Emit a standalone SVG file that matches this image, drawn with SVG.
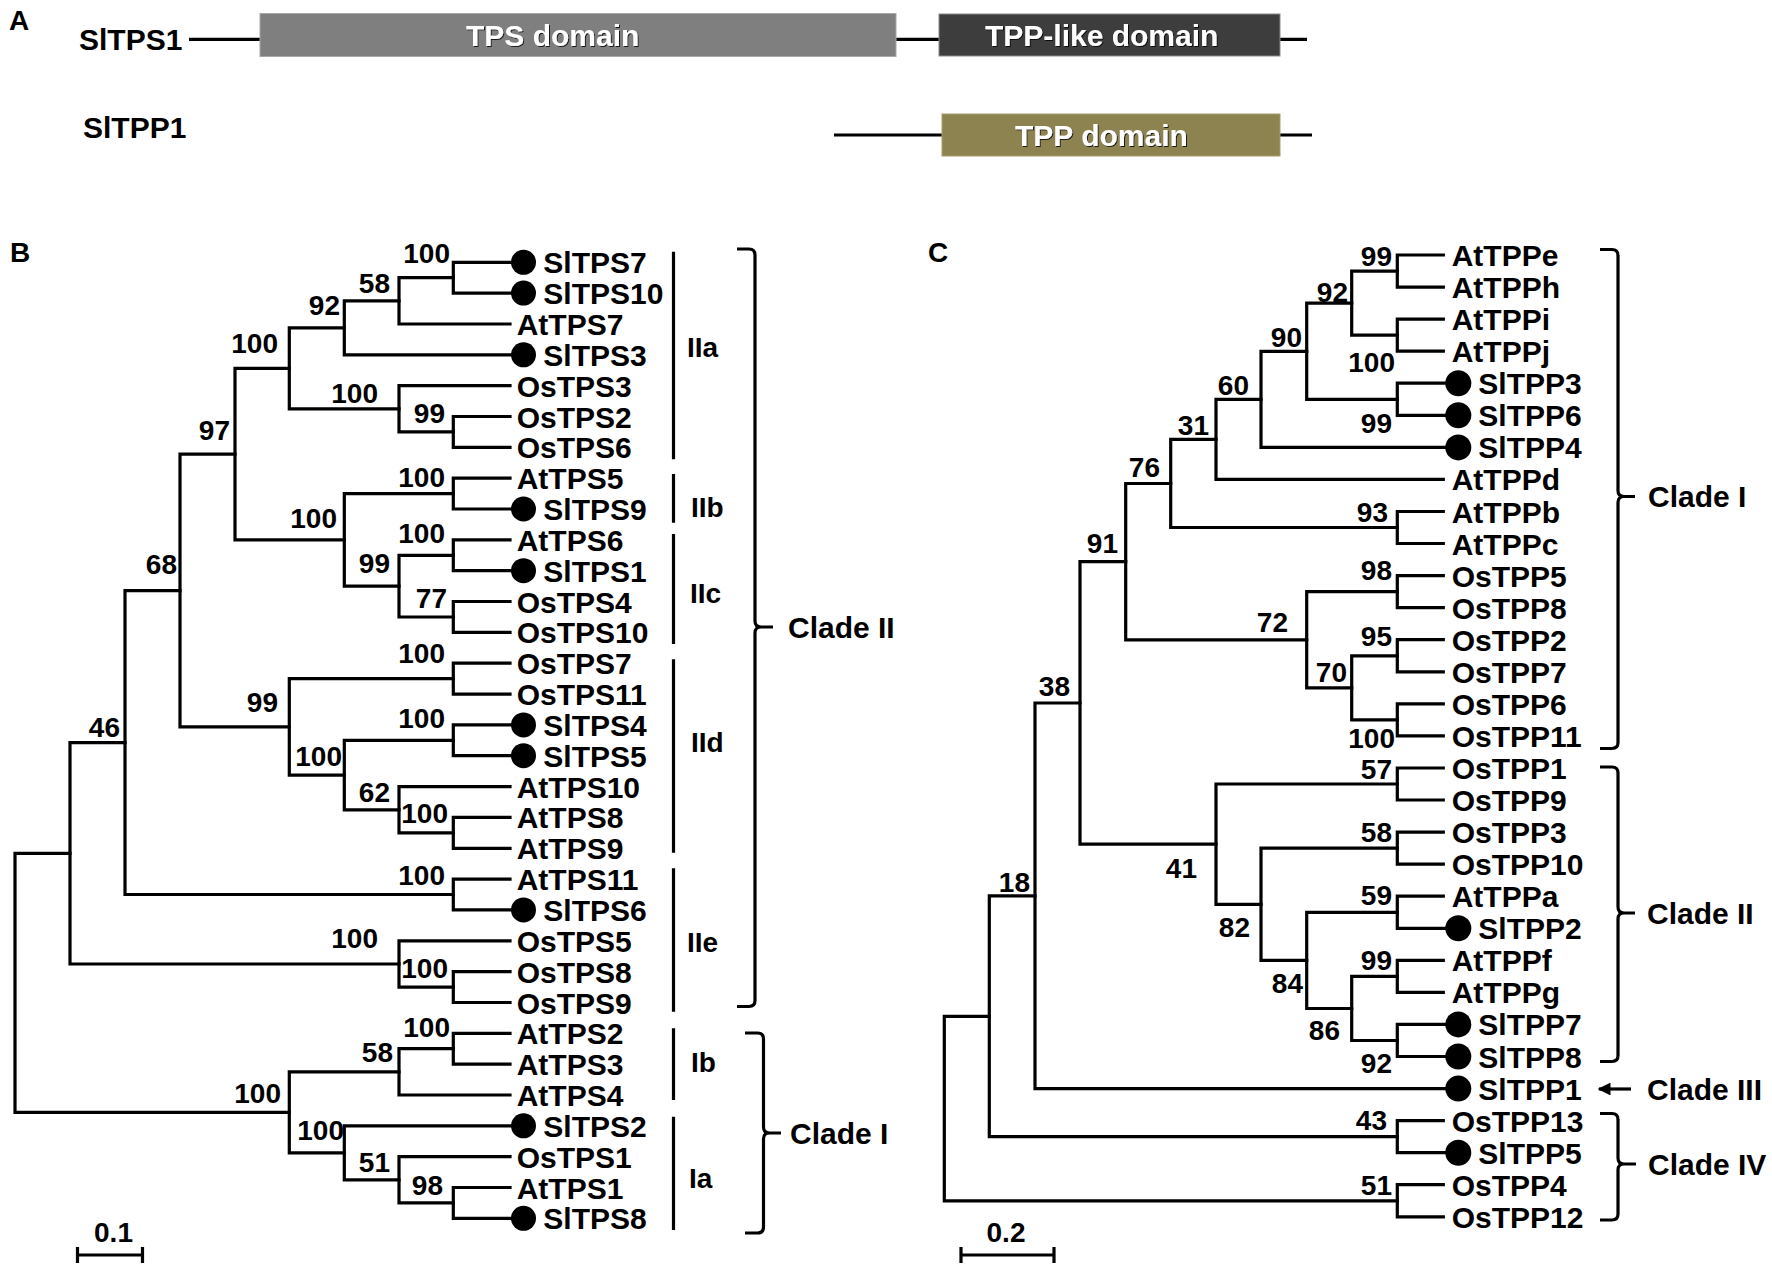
<svg xmlns="http://www.w3.org/2000/svg" width="1772" height="1270" viewBox="0 0 1772 1270">
<defs>
<style>
.t{font-family:"Liberation Sans",Arial,sans-serif;font-weight:bold;fill:#000}
.lf{font-size:30px}
.bs{font-size:28px;text-anchor:end}
.sc{font-size:28px;text-anchor:middle}
.pl{font-size:28px}
.br{fill:none;stroke:#000;stroke-width:3.2;stroke-linecap:square}
.ln{fill:none;stroke:#000;stroke-width:3.2}
.dot{fill:#000}
.dm{font-family:"Liberation Sans",Arial,sans-serif;font-weight:bold;font-size:30px;fill:#fff;filter:url(#sh)}
</style>
<filter id="sh" x="-5%" y="-20%" width="110%" height="150%"><feDropShadow dx="1" dy="1" stdDeviation="0.6" flood-color="#000" flood-opacity="0.8"/></filter>
<marker id="ah" viewBox="0 0 10 10" refX="9" refY="5" markerWidth="4" markerHeight="4" orient="auto"><path d="M0,0 L10,5 L0,10 z" fill="#000"/></marker>
</defs>
<rect width="1772" height="1270" fill="#fff"/>

<!-- Panel A -->
<g id="panelA">
<text class="t" font-size="28" x="9" y="30">A</text>
<g id="A-SlTPS1">
<text class="t lf" x="79" y="50">SlTPS1</text>
<path class="ln" d="M189 39.3 H260 M896 39.3 H939 M1280 39.3 H1307"/>
<rect x="260" y="13.5" width="636" height="43" fill="#7f7f7f" stroke="#a8a8a8" stroke-width="1"/>
<text class="dm" x="466" y="46">TPS domain</text>
<rect x="939" y="14" width="341" height="42" fill="#3d3d3d" stroke="#8a8a8a" stroke-width="1"/>
<text class="dm" x="985" y="46">TPP-like domain</text>
</g>
<g id="A-SlTPP1">
<text class="t lf" x="83" y="138">SlTPP1</text>
<path class="ln" d="M834 135 H942 M1280 135 H1312"/>
<rect x="942" y="114" width="338" height="42" fill="#8d8350" stroke="#a79d6c" stroke-width="1"/>
<text class="dm" x="1015" y="146">TPP domain</text>
</g>
</g>

<!-- Panel B -->
<text class="t" font-size="28" x="10" y="262">B</text>
<g id="B-connectors">
<path class="br" d="M523.5 262.3 H453.3 V293.1 H523.5"/>
<path class="br" d="M453.3 277.7 H399 V324 H510"/>
<path class="br" d="M399 300.9 H344.3 V354.8 H523.5"/>
<path class="br" d="M510 416.5 H453.3 V447.3 H510"/>
<path class="br" d="M510 385.7 H399 V431.9 H453.3"/>
<path class="br" d="M344.3 327.9 H289.3 V408.8 H399"/>
<path class="br" d="M510 478.2 H453.3 V509 H523.5"/>
<path class="br" d="M510 539.9 H453.3 V570.7 H523.5"/>
<path class="br" d="M510 601.5 H453.3 V632.4 H510"/>
<path class="br" d="M453.3 555.3 H399 V617 H453.3"/>
<path class="br" d="M453.3 493.6 H344.3 V586.2 H399"/>
<path class="br" d="M289.3 368.4 H235 V539.9 H344.3"/>
<path class="br" d="M510 663.2 H453.3 V694.1 H510"/>
<path class="br" d="M523.5 724.9 H453.3 V755.7 H523.5"/>
<path class="br" d="M510 817.4 H453.3 V848.3 H510"/>
<path class="br" d="M510 786.6 H399 V832.9 H453.3"/>
<path class="br" d="M453.3 740.3 H344.3 V809.8 H399"/>
<path class="br" d="M453.3 678.7 H289.3 V775.1 H344.3"/>
<path class="br" d="M235 454.2 H180 V726.9 H289.3"/>
<path class="br" d="M510 879.1 H453.3 V909.9 H523.5"/>
<path class="br" d="M180 590.6 H125 V894.5 H453.3"/>
<path class="br" d="M510 971.6 H453.3 V1002.5 H510"/>
<path class="br" d="M510 940.8 H399 V987.1 H453.3"/>
<path class="br" d="M125 742.6 H70 V964 H399"/>
<path class="br" d="M510 1033.3 H453.3 V1064.1 H510"/>
<path class="br" d="M453.3 1048.7 H399 V1095 H510"/>
<path class="br" d="M510 1187.5 H453.3 V1218.3 H523.5"/>
<path class="br" d="M510 1156.7 H399 V1202.9 H453.3"/>
<path class="br" d="M523.5 1125.8 H344.3 V1179.8 H399"/>
<path class="br" d="M399 1071.9 H289.3 V1152.8 H344.3"/>
<path class="br" d="M70 853.3 H15 V1112.4 H289.3"/>
</g>
<g id="B-leaves">
<g id="B-SlTPS7"><circle class="dot" cx="523.5" cy="262.3" r="12.5"/><text class="t lf" x="543.3" y="273.3">SlTPS7</text></g>
<g id="B-SlTPS10"><circle class="dot" cx="523.5" cy="293.1" r="12.5"/><text class="t lf" x="543.3" y="304.1">SlTPS10</text></g>
<g id="B-AtTPS7"><text class="t lf" x="516.7" y="335">AtTPS7</text></g>
<g id="B-SlTPS3"><circle class="dot" cx="523.5" cy="354.8" r="12.5"/><text class="t lf" x="543.3" y="365.8">SlTPS3</text></g>
<g id="B-OsTPS3"><text class="t lf" x="516.7" y="396.7">OsTPS3</text></g>
<g id="B-OsTPS2"><text class="t lf" x="516.7" y="427.5">OsTPS2</text></g>
<g id="B-OsTPS6"><text class="t lf" x="516.7" y="458.3">OsTPS6</text></g>
<g id="B-AtTPS5"><text class="t lf" x="516.7" y="489.2">AtTPS5</text></g>
<g id="B-SlTPS9"><circle class="dot" cx="523.5" cy="509" r="12.5"/><text class="t lf" x="543.3" y="520">SlTPS9</text></g>
<g id="B-AtTPS6"><text class="t lf" x="516.7" y="550.9">AtTPS6</text></g>
<g id="B-SlTPS1"><circle class="dot" cx="523.5" cy="570.7" r="12.5"/><text class="t lf" x="543.3" y="581.7">SlTPS1</text></g>
<g id="B-OsTPS4"><text class="t lf" x="516.7" y="612.5">OsTPS4</text></g>
<g id="B-OsTPS10"><text class="t lf" x="516.7" y="643.4">OsTPS10</text></g>
<g id="B-OsTPS7"><text class="t lf" x="516.7" y="674.2">OsTPS7</text></g>
<g id="B-OsTPS11"><text class="t lf" x="516.7" y="705.1">OsTPS11</text></g>
<g id="B-SlTPS4"><circle class="dot" cx="523.5" cy="724.9" r="12.5"/><text class="t lf" x="543.3" y="735.9">SlTPS4</text></g>
<g id="B-SlTPS5"><circle class="dot" cx="523.5" cy="755.7" r="12.5"/><text class="t lf" x="543.3" y="766.7">SlTPS5</text></g>
<g id="B-AtTPS10"><text class="t lf" x="516.7" y="797.6">AtTPS10</text></g>
<g id="B-AtTPS8"><text class="t lf" x="516.7" y="828.4">AtTPS8</text></g>
<g id="B-AtTPS9"><text class="t lf" x="516.7" y="859.3">AtTPS9</text></g>
<g id="B-AtTPS11"><text class="t lf" x="516.7" y="890.1">AtTPS11</text></g>
<g id="B-SlTPS6"><circle class="dot" cx="523.5" cy="909.9" r="12.5"/><text class="t lf" x="543.3" y="920.9">SlTPS6</text></g>
<g id="B-OsTPS5"><text class="t lf" x="516.7" y="951.8">OsTPS5</text></g>
<g id="B-OsTPS8"><text class="t lf" x="516.7" y="982.6">OsTPS8</text></g>
<g id="B-OsTPS9"><text class="t lf" x="516.7" y="1013.5">OsTPS9</text></g>
<g id="B-AtTPS2"><text class="t lf" x="516.7" y="1044.3">AtTPS2</text></g>
<g id="B-AtTPS3"><text class="t lf" x="516.7" y="1075.1">AtTPS3</text></g>
<g id="B-AtTPS4"><text class="t lf" x="516.7" y="1106">AtTPS4</text></g>
<g id="B-SlTPS2"><circle class="dot" cx="523.5" cy="1125.8" r="12.5"/><text class="t lf" x="543.3" y="1136.8">SlTPS2</text></g>
<g id="B-OsTPS1"><text class="t lf" x="516.7" y="1167.7">OsTPS1</text></g>
<g id="B-AtTPS1"><text class="t lf" x="516.7" y="1198.5">AtTPS1</text></g>
<g id="B-SlTPS8"><circle class="dot" cx="523.5" cy="1218.3" r="12.5"/><text class="t lf" x="543.3" y="1229.3">SlTPS8</text></g>
</g>
<g id="B-bootstrap" class="t bs">
<text x="450" y="263">100</text>
<text x="390" y="293">58</text>
<text x="340" y="315">92</text>
<text x="278" y="353">100</text>
<text x="378" y="403">100</text>
<text x="445" y="423">99</text>
<text x="230" y="440">97</text>
<text x="445" y="487">100</text>
<text x="337" y="528">100</text>
<text x="445" y="543">100</text>
<text x="390" y="573">99</text>
<text x="177" y="574">68</text>
<text x="447" y="608">77</text>
<text x="445" y="663">100</text>
<text x="278" y="712">99</text>
<text x="445" y="728">100</text>
<text x="120" y="737">46</text>
<text x="342" y="766">100</text>
<text x="390" y="802">62</text>
<text x="448" y="823">100</text>
<text x="445" y="885">100</text>
<text x="378" y="948">100</text>
<text x="448" y="978">100</text>
<text x="450" y="1037">100</text>
<text x="393" y="1062">58</text>
<text x="281" y="1103">100</text>
<text x="344" y="1140">100</text>
<text x="390" y="1172">51</text>
<text x="443" y="1195">98</text>
</g>
<g id="B-subclades">
<path class="ln" d="M673.5 251.7 V459.3 M673.5 474 V522.7 M673.5 534 V644 M673.5 659.3 V852.7 M673.5 868.3 V1011.7 M673.5 1028.3 V1100 M673.5 1116.7 V1230"/>
<text class="t pl" x="687" y="357">IIa</text>
<text class="t pl" x="691" y="517">IIb</text>
<text class="t pl" x="690" y="603">IIc</text>
<text class="t pl" x="691" y="752">IId</text>
<text class="t pl" x="687" y="952">IIe</text>
<text class="t pl" x="691" y="1072">Ib</text>
<text class="t pl" x="689" y="1188">Ia</text>
</g>
<g id="B-clades">
<path class="ln" d="M737 249 H749 Q755 249 755 255 V621 Q755 627 761 627 H773 M761 627 Q755 627 755 633 V1000.5 Q755 1006.5 749 1006.5 H737"/>
<text class="t lf" x="788" y="638">Clade II</text>
<path class="ln" d="M745 1033 H757.5 Q763.5 1033 763.5 1039 V1127 Q763.5 1133 769.5 1133 H781 M769.5 1133 Q763.5 1133 763.5 1139 V1227 Q763.5 1233 757.5 1233 H745"/>
<text class="t lf" x="790" y="1144">Clade I</text>
</g>
<g id="B-scale">
<path class="ln" d="M77.5 1247 V1263 M77.5 1255 H142.5 M142.5 1247 V1263"/>
<text class="t sc" x="113.5" y="1242">0.1</text>
</g>

<!-- Panel C -->
<text class="t" font-size="28" x="928" y="262">C</text>
<g id="C-connectors">
<path class="br" d="M1443.3 255 H1397.3 V287.1 H1443.3"/>
<path class="br" d="M1443.3 319.1 H1397.3 V351.2 H1443.3"/>
<path class="br" d="M1397.3 271.1 H1351.7 V335.2 H1397.3"/>
<path class="br" d="M1458.3 383.2 H1397.3 V415.3 H1458.3"/>
<path class="br" d="M1351.7 303.2 H1306.7 V399.3 H1397.3"/>
<path class="br" d="M1306.7 351.3 H1261 V447.4 H1458.3"/>
<path class="br" d="M1261 399.4 H1216 V479.4 H1443.3"/>
<path class="br" d="M1443.3 511.5 H1397.3 V543.5 H1443.3"/>
<path class="br" d="M1216 439.4 H1170.7 V527.5 H1397.3"/>
<path class="br" d="M1443.3 575.6 H1397.3 V607.7 H1443.3"/>
<path class="br" d="M1443.3 639.7 H1397.3 V671.8 H1443.3"/>
<path class="br" d="M1443.3 703.8 H1397.3 V735.9 H1443.3"/>
<path class="br" d="M1397.3 655.8 H1351.7 V719.9 H1397.3"/>
<path class="br" d="M1397.3 591.7 H1306.7 V687.9 H1351.7"/>
<path class="br" d="M1170.7 483.5 H1125.7 V639.8 H1306.7"/>
<path class="br" d="M1443.3 768 H1397.3 V800 H1443.3"/>
<path class="br" d="M1443.3 832.1 H1397.3 V864.1 H1443.3"/>
<path class="br" d="M1443.3 896.2 H1397.3 V928.3 H1458.3"/>
<path class="br" d="M1443.3 960.3 H1397.3 V992.4 H1443.3"/>
<path class="br" d="M1458.3 1024.4 H1397.3 V1056.5 H1458.3"/>
<path class="br" d="M1397.3 976.4 H1351.7 V1040.5 H1397.3"/>
<path class="br" d="M1397.3 912.3 H1306.7 V1008.5 H1351.7"/>
<path class="br" d="M1397.3 848.1 H1261 V960.4 H1306.7"/>
<path class="br" d="M1397.3 784 H1216 V904.3 H1261"/>
<path class="br" d="M1125.7 561.7 H1080 V844.2 H1216"/>
<path class="br" d="M1080 703 H1035 V1088.6 H1458.3"/>
<path class="br" d="M1443.3 1120.6 H1397.3 V1152.7 H1458.3"/>
<path class="br" d="M1443.3 1184.7 H1397.3 V1216.8 H1443.3"/>
<path class="br" d="M1035 895.8 H989.3 V1136.7 H1397.3"/>
<path class="br" d="M989.3 1016.3 H944.3 V1200.8 H1397.3"/>
</g>
<g id="C-leaves">
<g id="C-AtTPPe"><text class="t lf" x="1451.7" y="266">AtTPPe</text></g>
<g id="C-AtTPPh"><text class="t lf" x="1451.7" y="298.1">AtTPPh</text></g>
<g id="C-AtTPPi"><text class="t lf" x="1451.7" y="330.1">AtTPPi</text></g>
<g id="C-AtTPPj"><text class="t lf" x="1451.7" y="362.2">AtTPPj</text></g>
<g id="C-SlTPP3"><circle class="dot" cx="1458.3" cy="383.2" r="13"/><text class="t lf" x="1478.3" y="394.2">SlTPP3</text></g>
<g id="C-SlTPP6"><circle class="dot" cx="1458.3" cy="415.3" r="13"/><text class="t lf" x="1478.3" y="426.3">SlTPP6</text></g>
<g id="C-SlTPP4"><circle class="dot" cx="1458.3" cy="447.4" r="13"/><text class="t lf" x="1478.3" y="458.4">SlTPP4</text></g>
<g id="C-AtTPPd"><text class="t lf" x="1451.7" y="490.4">AtTPPd</text></g>
<g id="C-AtTPPb"><text class="t lf" x="1451.7" y="522.5">AtTPPb</text></g>
<g id="C-AtTPPc"><text class="t lf" x="1451.7" y="554.5">AtTPPc</text></g>
<g id="C-OsTPP5"><text class="t lf" x="1451.7" y="586.6">OsTPP5</text></g>
<g id="C-OsTPP8"><text class="t lf" x="1451.7" y="618.7">OsTPP8</text></g>
<g id="C-OsTPP2"><text class="t lf" x="1451.7" y="650.7">OsTPP2</text></g>
<g id="C-OsTPP7"><text class="t lf" x="1451.7" y="682.8">OsTPP7</text></g>
<g id="C-OsTPP6"><text class="t lf" x="1451.7" y="714.8">OsTPP6</text></g>
<g id="C-OsTPP11"><text class="t lf" x="1451.7" y="746.9">OsTPP11</text></g>
<g id="C-OsTPP1"><text class="t lf" x="1451.7" y="779">OsTPP1</text></g>
<g id="C-OsTPP9"><text class="t lf" x="1451.7" y="811">OsTPP9</text></g>
<g id="C-OsTPP3"><text class="t lf" x="1451.7" y="843.1">OsTPP3</text></g>
<g id="C-OsTPP10"><text class="t lf" x="1451.7" y="875.1">OsTPP10</text></g>
<g id="C-AtTPPa"><text class="t lf" x="1451.7" y="907.2">AtTPPa</text></g>
<g id="C-SlTPP2"><circle class="dot" cx="1458.3" cy="928.3" r="13"/><text class="t lf" x="1478.3" y="939.3">SlTPP2</text></g>
<g id="C-AtTPPf"><text class="t lf" x="1451.7" y="971.3">AtTPPf</text></g>
<g id="C-AtTPPg"><text class="t lf" x="1451.7" y="1003.4">AtTPPg</text></g>
<g id="C-SlTPP7"><circle class="dot" cx="1458.3" cy="1024.4" r="13"/><text class="t lf" x="1478.3" y="1035.4">SlTPP7</text></g>
<g id="C-SlTPP8"><circle class="dot" cx="1458.3" cy="1056.5" r="13"/><text class="t lf" x="1478.3" y="1067.5">SlTPP8</text></g>
<g id="C-SlTPP1"><circle class="dot" cx="1458.3" cy="1088.6" r="13"/><text class="t lf" x="1478.3" y="1099.6">SlTPP1</text></g>
<g id="C-OsTPP13"><text class="t lf" x="1451.7" y="1131.6">OsTPP13</text></g>
<g id="C-SlTPP5"><circle class="dot" cx="1458.3" cy="1152.7" r="13"/><text class="t lf" x="1478.3" y="1163.7">SlTPP5</text></g>
<g id="C-OsTPP4"><text class="t lf" x="1451.7" y="1195.7">OsTPP4</text></g>
<g id="C-OsTPP12"><text class="t lf" x="1451.7" y="1227.8">OsTPP12</text></g>
</g>
<g id="C-bootstrap" class="t bs">
<text x="1392" y="266">99</text>
<text x="1348" y="302">92</text>
<text x="1302" y="347">90</text>
<text x="1395" y="372">100</text>
<text x="1249" y="395">60</text>
<text x="1392" y="433">99</text>
<text x="1209" y="435">31</text>
<text x="1160" y="477">76</text>
<text x="1388" y="522">93</text>
<text x="1118" y="553">91</text>
<text x="1392" y="580">98</text>
<text x="1288" y="632">72</text>
<text x="1392" y="646">95</text>
<text x="1347" y="682">70</text>
<text x="1070" y="696">38</text>
<text x="1395" y="748">100</text>
<text x="1392" y="779">57</text>
<text x="1392" y="842">58</text>
<text x="1197" y="878">41</text>
<text x="1030" y="892">18</text>
<text x="1392" y="905">59</text>
<text x="1250" y="937">82</text>
<text x="1392" y="970">99</text>
<text x="1303" y="993">84</text>
<text x="1340" y="1040">86</text>
<text x="1392" y="1073">92</text>
<text x="1387" y="1130">43</text>
<text x="1392" y="1195">51</text>
</g>
<g id="C-clades">
<path class="ln" d="M1600 249.5 H1612 Q1618 249.5 1618 255.5 V490.5 Q1618 496.5 1624 496.5 H1635 M1624 496.5 Q1618 496.5 1618 502.5 V742.5 Q1618 748.5 1612 748.5 H1600"/>
<text class="t lf" x="1648" y="507">Clade I</text>
<path class="ln" d="M1600 767 H1612 Q1618 767 1618 773 V907 Q1618 913 1624 913 H1635 M1624 913 Q1618 913 1618 919 V1055.5 Q1618 1061.5 1612 1061.5 H1600"/>
<text class="t lf" x="1647" y="924">Clade II</text>
<path class="ln" d="M1631 1089 H1599" marker-end="url(#ah)"/>
<text class="t lf" x="1647" y="1100">Clade III</text>
<path class="ln" d="M1600 1113.5 H1612 Q1618 1113.5 1618 1119.5 V1158 Q1618 1164 1624 1164 H1636 M1624 1164 Q1618 1164 1618 1170 V1214 Q1618 1220 1612 1220 H1600"/>
<text class="t lf" x="1648" y="1175">Clade IV</text>
</g>
<g id="C-scale">
<path class="ln" d="M961 1247 V1263 M961 1255 H1054 M1054 1247 V1263"/>
<text class="t sc" x="1006" y="1242">0.2</text>
</g>
</svg>
